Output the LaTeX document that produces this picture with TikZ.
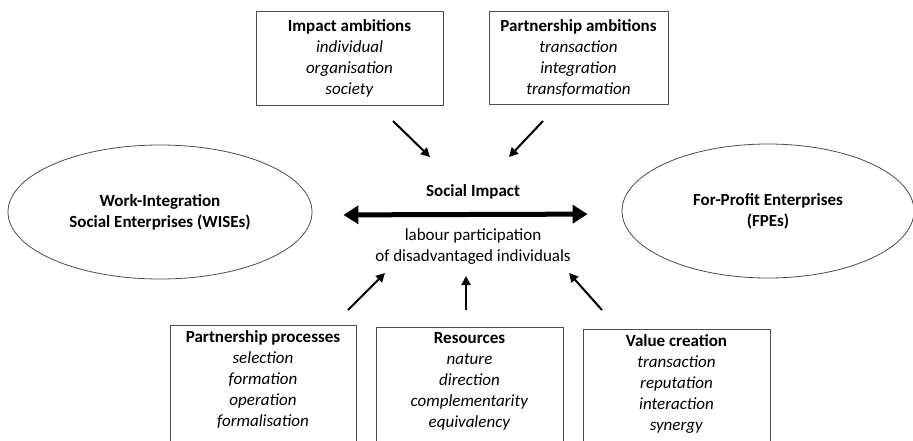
\documentclass[tikz,border=0pt]{standalone}
\usepackage{fontspec}
\setmainfont{Carlito}
\usetikzlibrary{arrows.meta, positioning, shapes.geometric}

\begin{document}
\begin{tikzpicture}[x=1pt, y=-1pt,
  font=\fontsize{17}{21}\selectfont,
  box/.style={draw=black!70, line width=0.8pt, rectangle, align=center, inner sep=5pt},
  party/.style={draw=black!70, line width=0.8pt, ellipse, align=center, font=\fontsize{17}{21}\selectfont\bfseries},
  push/.style={line width=2pt, -{Triangle[length=9pt, width=9pt]}},
  link/.style={line width=5pt, {Triangle[length=15pt, width=18pt]}-{Triangle[length=15pt, width=18pt]}}
]
\useasboundingbox (0,0) rectangle (913,440);
\clip (0,0) rectangle (913,440);

% the two partners
\node (wise) [party, minimum width=304pt, minimum height=134pt] at (160,212) {Work-Integration\\Social Enterprises (WISEs)};
\node (fpe) [party, minimum width=292pt, minimum height=134pt] at (768,211) {For-Profit Enterprises\\(FPEs)};

% social impact in between
\node (impact) at (473,192) {\textbf{Social Impact}};
\node (labour) [below=22pt of impact, align=center] {labour participation\\of disadvantaged individuals};
\draw[link, shorten <=31pt, shorten >=34pt] ([yshift=-3pt]wise.east) -- ([yshift=-3pt]fpe.west);

% ambitions on top
\node (ia) [box, anchor=north, minimum width=187pt, inner ysep=8pt] at (349.5,11) {\textbf{Impact ambitions}\\\textit{individual}\\\textit{organisation}\\\textit{society}};
\node (pa) [box, anchor=north, minimum width=179pt, inner ysep=8pt] at (578.5,11) {\textbf{Partnership ambitions}\\\textit{transaction}\\\textit{integration}\\\textit{transformation}};

% partnership features below
\node (pp) [box, anchor=north, minimum width=186pt] at (263,325) {\textbf{Partnership processes}\\\textit{selection}\\\textit{formation}\\\textit{operation}\\\textit{formalisation}\\\mbox{}};
\node (res) [box, anchor=north, minimum width=187pt] at (469.5,327) {\textbf{Resources}\\\textit{nature}\\\textit{direction}\\\textit{complementarity}\\\textit{equivalency}\\\mbox{}};
\node (vc) [box, anchor=north, minimum width=187pt] at (676.5,329) {\textbf{Value creation}\\\textit{transaction}\\\textit{reputation}\\\textit{interaction}\\\textit{synergy}\\\mbox{}};

% arrow ends
\coordinate (ia-out) at (393,121);
\coordinate (ia-in) at (430,157);
\coordinate (pa-out) at (543,121);
\coordinate (pa-in) at (509,157);
\coordinate (pp-out) at (348,310);
\coordinate (pp-in) at (385,273);
\coordinate (res-out) at (466,310);
\coordinate (res-in) at (466,276);
\coordinate (vc-out) at (602,310);
\coordinate (vc-in) at (569,273);

\draw[push] (ia-out) -- (ia-in);
\draw[push] (pa-out) -- (pa-in);
\draw[push] (pp-out) -- (pp-in);
\draw[push] (res-out) -- (res-in);
\draw[push] (vc-out) -- (vc-in);
\end{tikzpicture}
\end{document}
